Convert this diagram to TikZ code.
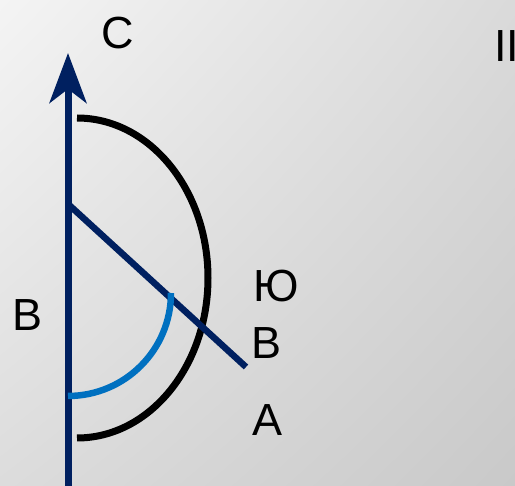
\documentclass[tikz,border=0pt]{standalone}
\usepackage{fontspec}
\setmainfont{Liberation Sans}
\usetikzlibrary{arrows.meta,shadings}
\definecolor{navy}{HTML}{002060}
\definecolor{mblue}{HTML}{0070C0}
\definecolor{bgUL}{RGB}{244,244,244}
\definecolor{bgUR}{RGB}{218,218,218}
\definecolor{bgLL}{RGB}{220,220,220}
\definecolor{bgLR}{RGB}{201,201,201}
\begin{document}
\begin{tikzpicture}[x=1pt,y=-1pt,
  lbl/.style={inner sep=0pt,font=\fontsize{45}{45}\selectfont},
  axisline/.style={draw=navy,line width=7pt},
  bigarc/.style={draw=black,line width=7pt},
  anglearc/.style={draw=mblue,line width=6.5pt}]
\useasboundingbox (0,0) rectangle (515,486);
\clip (0,0) rectangle (515,486);
\shade[upper left=bgUL,upper right=bgUR,lower left=bgLL,lower right=bgLR]
  (0,0) rectangle (515,486);
\coordinate (bot) at (68,490);
\coordinate (top) at (68,53);
\coordinate (o) at (68,204);
\coordinate (e) at (246,367);
\coordinate (arcS) at (77,118);
\coordinate (blS) at (68,396);
% axis with arrow
\draw[axisline,-{Stealth[length=50pt,width=37pt,inset=14pt]}] (bot) -- (top);
% black half ellipse
\draw[bigarc] (arcS) arc[start angle=90,end angle=-90,x radius=131,y radius=-160];
% diagonal
\draw[axisline,line width=6.5pt] (o) -- (e);
% blue arc
\draw[anglearc] (blS) arc[start angle=90,end angle=0,radius=103];
% labels
\node[lbl] (c) at (118,33) {С};
\node[lbl] (w) at (28,315) {В};
\node[lbl] (yu) at (276,286) {Ю};
\node[lbl] (v) at (267,343) {В};
\node[lbl] (a) at (268,420) {А};
\node[lbl,anchor=west] (ii) at (494,46) {II};
\end{tikzpicture}
\end{document}
